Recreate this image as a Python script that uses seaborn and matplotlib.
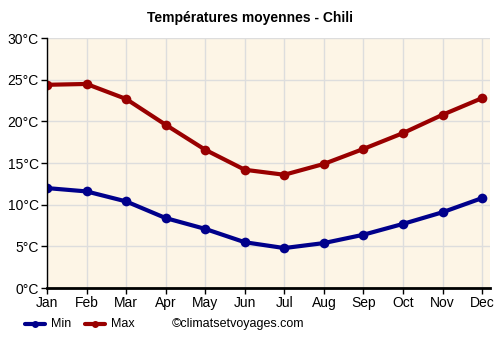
import matplotlib
matplotlib.use('Agg')
import matplotlib.pyplot as plt
import seaborn as sns
import pandas as pd

mois = ['Jan', 'Feb', 'Mar', 'Apr', 'May', 'Jun', 'Jul', 'Aug', 'Sep', 'Oct', 'Nov', 'Dec']
t_min = [12.0, 11.6, 10.4, 8.4, 7.1, 5.5, 4.8, 5.4, 6.4, 7.7, 9.1, 10.8]
t_max = [24.4, 24.5, 22.7, 19.6, 16.6, 14.2, 13.6, 14.9, 16.7, 18.6, 20.8, 22.8]
yticks = [0, 5, 10, 15, 20, 25, 30]

df = pd.DataFrame({'mois': list(range(12)) * 2,
                   'temp': t_min + t_max,
                   'serie': ['Min'] * 12 + ['Max'] * 12})

sns.set_style('white')
plt.rcParams['font.family'] = ['Liberation Sans', 'DejaVu Sans']
plt.rcParams['text.color'] = 'black'
plt.rcParams['xtick.color'] = 'black'
plt.rcParams['ytick.color'] = 'black'

fig = plt.figure(figsize=(5, 3.5), dpi=100)
ax = fig.add_axes([0.094, 0.177, 0.886, 0.714])
ax.set_facecolor('#fdf5e6')

sns.lineplot(data=df, x='mois', y='temp', hue='serie',
             palette={'Min': '#00008b', 'Max': '#990000'},
             marker='o', markersize=7, markeredgewidth=0, linewidth=3,
             legend=False, ax=ax)

ax.set_xlim(0, 11.2)
ax.set_ylim(0, 30)
ax.set_xticks(range(12))
ax.set_xticklabels(mois)
ax.set_yticks(yticks)
ax.set_yticklabels([f'{v}°C' for v in yticks])
ax.grid(True, color='#dddddd', linewidth=1)
ax.set_axisbelow(True)
for s in ['top', 'right']:
    ax.spines[s].set_visible(False)
ax.spines['left'].set_color('black')
ax.spines['left'].set_linewidth(1)
ax.spines['bottom'].set_color('black')
ax.spines['bottom'].set_linewidth(2)
ax.tick_params(axis='both', length=4, width=1, color='black', labelcolor='black',
               labelsize=10, pad=2, direction='out')
ax.tick_params(axis='x', bottom=True)
ax.tick_params(axis='y', left=True)
ax.set_xlabel('')
ax.set_ylabel('')

fig.text(0.5, 0.948, 'Températures moyennes - Chili', ha='center', va='center',
         fontsize=10, fontweight='bold', color='black')

# legend at bottom
for x0, col, lab in [(0.05, '#00008b', 'Min'), (0.17, '#990000', 'Max')]:
    fig.lines.append(plt.Line2D([x0, x0 + 0.04], [0.074, 0.074], color=col, lw=3,
                                transform=fig.transFigure))
    fig.lines.append(plt.Line2D([x0 + 0.02], [0.074], color=col, marker='o', markersize=4,
                                transform=fig.transFigure))
    fig.text(x0 + 0.052, 0.074, lab, va='center', fontsize=9, color='black')
fig.text(0.344, 0.074, '©climatsetvoyages.com', va='center', fontsize=9, color='black')

fig.savefig('out.png', dpi=100)
